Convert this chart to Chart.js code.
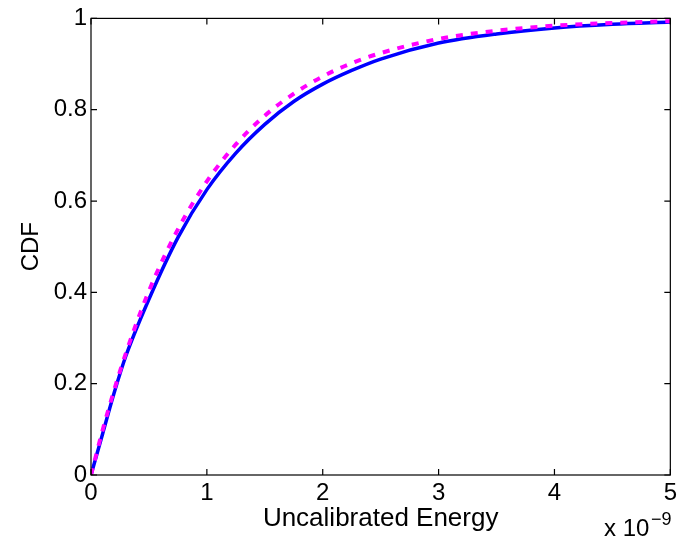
<!DOCTYPE html>
<html>
<head>
<meta charset="utf-8">
<script src="https://cdn.jsdelivr.net/npm/chart.js@4.4.0/dist/chart.umd.min.js"></script>
<style>
  html, body { margin: 0; padding: 0; background: #fff; }
  #wrap { width: 681px; height: 542px; }
</style>
</head>
<body>
<div id="wrap"><canvas id="cdfChart" width="681" height="542"></canvas></div>
<script>
// energy values in units of 1e-9
const energy   = [0, 0.1, 0.2, 0.3, 0.5, 0.75, 1, 1.25, 1.5, 1.75, 2, 2.25, 2.5, 3, 3.5, 4, 4.5, 5];
const cdfEmp   = [0, 0.09, 0.18, 0.26, 0.385, 0.52, 0.625, 0.705, 0.768, 0.818, 0.856, 0.886, 0.911, 0.946, 0.966, 0.979, 0.987, 0.992];
const cdfFit   = [0, 0.098, 0.186, 0.266, 0.403, 0.538, 0.643, 0.724, 0.787, 0.835, 0.873, 0.902, 0.924, 0.955, 0.973, 0.984, 0.99, 0.994];
const xTicks   = [0, 1, 2, 3, 4, 5];
const yTicks   = [0, 0.2, 0.4, 0.6, 0.8, 1];

const FONT = '"Liberation Sans", Arial, Helvetica, sans-serif';

// box + inward ticks, matlab style
const boxPlugin = {
  id: 'box',
  afterDraw(chart) {
    const { ctx, chartArea: a, scales } = chart;
    ctx.save();
    ctx.strokeStyle = '#000';
    ctx.lineWidth = 1.2;
    ctx.strokeRect(a.left, a.top, a.right - a.left, a.bottom - a.top);
    ctx.beginPath();
    xTicks.forEach(v => {
      const x = scales.x.getPixelForValue(v);
      ctx.moveTo(x, a.bottom); ctx.lineTo(x, a.bottom - 6);
      ctx.moveTo(x, a.top); ctx.lineTo(x, a.top + 6);
    });
    yTicks.forEach(v => {
      const y = scales.y.getPixelForValue(v);
      ctx.moveTo(a.left, y); ctx.lineTo(a.left + 6, y);
      ctx.moveTo(a.right, y); ctx.lineTo(a.right - 6, y);
    });
    ctx.stroke();

    // exponent label
    ctx.fillStyle = '#000';
    ctx.textBaseline = 'alphabetic';
    ctx.textAlign = 'left';
    ctx.font = '24px ' + FONT;
    ctx.fillText('x 10', 604, 536);
    ctx.font = '18px ' + FONT;
    ctx.fillText('\u22129', 651, 525);
    ctx.restore();
  }
};

new Chart(document.getElementById('cdfChart'), {
  type: 'line',
  data: {
    datasets: [
      {
        label: 'fit',
        data: energy.map((e, i) => ({ x: e, y: cdfFit[i] })),
        borderColor: '#ff00ff',
        borderWidth: 4,
        borderDash: [7, 8],
        cubicInterpolationMode: 'monotone',
        pointRadius: 0,
        fill: false,
        order: 0
      },
      {
        label: 'empirical',
        data: energy.map((e, i) => ({ x: e, y: cdfEmp[i] })),
        borderColor: '#0000ff',
        borderWidth: 3.5,
        cubicInterpolationMode: 'monotone',
        pointRadius: 0,
        fill: false,
        order: 1
      }
    ]
  },
  options: {
    responsive: false,
    animation: false,
    layout: { padding: { left: 0, right: 10, top: 17, bottom: 0 } },
    plugins: {
      legend: { display: false },
      tooltip: { enabled: false }
    },
    scales: {
      x: {
        type: 'linear',
        min: 0, max: 5,
        afterFit(s) { s.height = 67; },
        afterBuildTicks(s) { s.ticks = xTicks.map(v => ({ value: v })); },
        grid: { display: false, drawTicks: false },
        border: { display: false },
        ticks: { color: '#000', font: { family: FONT, size: 24 }, padding: 4, maxRotation: 0 },
        title: {
          display: true, text: 'Uncalibrated Energy', color: '#000',
          font: { family: FONT, size: 26 }, padding: { top: 0, bottom: 8 }
        }
      },
      y: {
        min: 0, max: 1,
        afterFit(s) { s.width = 91; },
        afterBuildTicks(s) { s.ticks = yTicks.map(v => ({ value: v })); },
        grid: { display: false, drawTicks: false },
        border: { display: false },
        ticks: {
          color: '#000', font: { family: FONT, size: 24 }, padding: 4,
          callback: v => String(Math.round(v * 10) / 10)
        },
        title: {
          display: true, text: 'CDF', color: '#000',
          font: { family: FONT, size: 24 }, padding: { top: 17, bottom: 0 }
        }
      }
    }
  },
  plugins: [boxPlugin]
});
</script>
</body>
</html>
